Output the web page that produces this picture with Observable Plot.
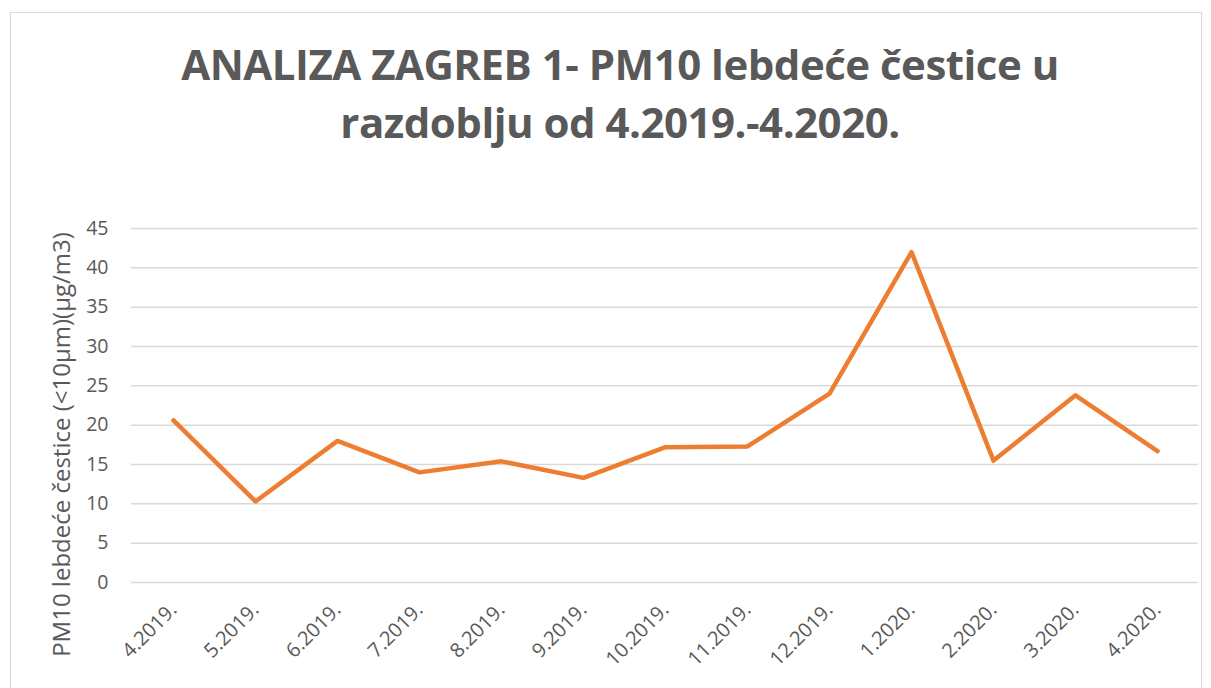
<!DOCTYPE html>
<html>
<head>
<meta charset="utf-8">
<script src="https://cdn.jsdelivr.net/npm/d3@7"></script>
<script src="https://cdn.jsdelivr.net/npm/@observablehq/plot@0.6"></script>
<style>
  html, body { margin: 0; padding: 0; background: #fff; }
  #wrap { position: relative; width: 1211px; height: 688px; overflow: hidden; font-family: "Open Sans", sans-serif; }
  #border { position: absolute; left: 10px; top: 12px; width: 1192px; height: 700px; border: 1px solid #d9d9d9; box-sizing: border-box; }
  #title { position: absolute; left: 0; top: 35px; width: 1240px; text-align: center; font-weight: 700; font-size: 42px; letter-spacing: -0.5px; line-height: 58px; color: #595959; }
  #chart { position: absolute; left: 0; top: 0; }
</style>
</head>
<body>
<div id="wrap">
  <div id="border"></div>
  <div id="chart"></div>
  <div id="title">ANALIZA ZAGREB 1- PM10 lebdeće čestice u<br>razdoblju od 4.2019.-4.2020.</div>
</div>
<script>
const months = ["4.2019.", "5.2019.", "6.2019.", "7.2019.", "8.2019.", "9.2019.", "10.2019.", "11.2019.", "12.2019.", "1.2020.", "2.2020.", "3.2020.", "4.2020."];
const pm10 = [20.6, 10.3, 18.0, 14.0, 15.4, 13.3, 17.2, 17.3, 24.0, 42.0, 15.5, 23.8, 16.7];
const yTicks = [0, 5, 10, 15, 20, 25, 30, 35, 40, 45];
const yLabel = "PM10 lebdeće čestice (<10µm)(µg/m3)";

const data = months.map((m, i) => ({month: m, value: pm10[i]}));

const chart = Plot.plot({
  width: 1211,
  height: 688,
  marginTop: 228,
  marginBottom: 106,
  marginLeft: 131,
  marginRight: 13,
  style: {fontFamily: "Open Sans, sans-serif", background: "transparent", color: "#595959"},
  x: {type: "point", domain: months, padding: 0.5},
  y: {domain: [0, 45]},
  marks: [
    Plot.gridY(yTicks, {stroke: "#d9d9d9", strokeOpacity: 1, strokeWidth: 1.5}),
    Plot.axisY(yTicks, {tickSize: 0, tickPadding: 23, fontSize: 19.5, fill: "#595959", label: null}),
    Plot.axisX({tickSize: 0, tickRotate: -45, tickPadding: 24, fontSize: 20, fill: "#595959", label: null}),
    Plot.line(data, {x: "month", y: "value", stroke: "#ED7D31", strokeWidth: 4.5, strokeLinejoin: "round", strokeLinecap: "round"}),
    Plot.text([yLabel], {frameAnchor: "left", dx: -69, dy: 39, rotate: -90, fontSize: 24, fill: "#595959", textAnchor: "middle"})
  ]
});
document.getElementById("chart").appendChild(chart);
</script>
</body>
</html>
